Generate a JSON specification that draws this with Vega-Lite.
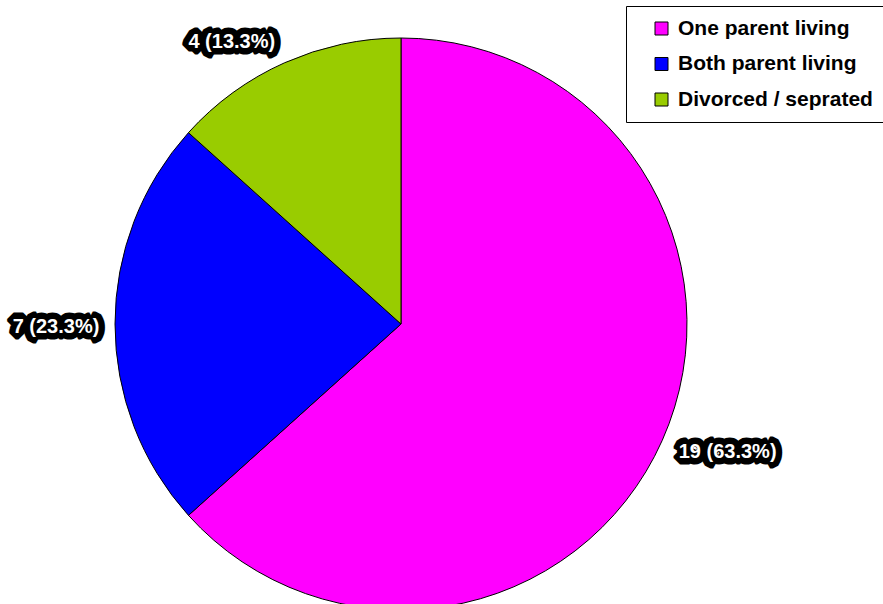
{
  "$schema": "https://vega.github.io/schema/vega-lite/v6.json",
  "width": 802,
  "height": 648,
  "padding": {"left": 0, "top": 0, "right": 81, "bottom": 0},
  "autosize": {"type": "none"},
  "background": "white",
  "view": {"stroke": null},
  "data": {"values": [
    {"category": "One parent living", "count": 19, "label": "19 (63.3%)"},
    {"category": "Both parent living", "count": 7, "label": "7 (23.3%)"},
    {"category": "Divorced / seprated", "count": 4, "label": "4 (13.3%)"}
  ]},
  "transform": [
    {"stack": "count", "groupby": [], "sort": [{"field": "count", "order": "descending"}], "as": ["s0", "s1"]},
    {"calculate": "(datum.s0 + datum.s1) / 2", "as": "mid"}
  ],
  "layer": [
    {
      "mark": {"type": "arc", "outerRadius": 286, "stroke": "black", "strokeWidth": 1},
      "encoding": {
        "theta": {"field": "s0", "type": "quantitative", "scale": {"domain": [0, 30]}},
        "theta2": {"field": "s1"},
        "color": {
          "field": "category", "type": "nominal",
          "scale": {"domain": ["One parent living", "Both parent living", "Divorced / seprated"], "range": ["#FF00FF", "#0000FF", "#99CC00"]},
          "legend": {
            "orient": "none", "legendX": 626, "legendY": 6, "title": null,
            "strokeColor": "black", "fillColor": "white", "padding": 12,
            "symbolType": "square", "symbolSize": 169, "symbolStrokeColor": "black", "symbolStrokeWidth": 1,
            "labelFont": "Liberation Sans", "labelFontSize": 21, "labelFontWeight": "bold", "labelColor": "black", "labelLimit": 400,
            "rowPadding": 13.5, "symbolOffset": 13, "labelOffset": 6
          }
        }
      }
    },
    {
      "transform": [{"filter": "datum.category == 'One parent living'"}],
      "layer": [
        {"mark": {"type": "text", "radius": 351, "dx": 6, "dy": -15, "font": "Liberation Sans", "fontSize": 20, "fontWeight": "bold", "fill": "black", "stroke": "black", "strokeWidth": 13, "strokeJoin": "bevel", "baseline": "middle", "align": "center"},
         "encoding": {"theta": {"field": "mid", "type": "quantitative", "scale": {"domain": [0, 30]}}, "text": {"field": "label"}}},
        {"mark": {"type": "text", "radius": 351, "dx": 6, "dy": -15, "font": "Liberation Sans", "fontSize": 20, "fontWeight": "bold", "fill": "white", "baseline": "middle", "align": "center"},
         "encoding": {"theta": {"field": "mid", "type": "quantitative", "scale": {"domain": [0, 30]}}, "text": {"field": "label"}}}
      ]
    },
    {
      "transform": [{"filter": "datum.category == 'Both parent living'"}],
      "layer": [
        {"mark": {"type": "text", "radius": 345, "dx": 0, "dy": 3, "font": "Liberation Sans", "fontSize": 20, "fontWeight": "bold", "fill": "black", "stroke": "black", "strokeWidth": 13, "strokeJoin": "bevel", "baseline": "middle", "align": "center"},
         "encoding": {"theta": {"field": "mid", "type": "quantitative", "scale": {"domain": [0, 30]}}, "text": {"field": "label"}}},
        {"mark": {"type": "text", "radius": 345, "dx": 0, "dy": 3, "font": "Liberation Sans", "fontSize": 20, "fontWeight": "bold", "fill": "white", "baseline": "middle", "align": "center"},
         "encoding": {"theta": {"field": "mid", "type": "quantitative", "scale": {"domain": [0, 30]}}, "text": {"field": "label"}}}
      ]
    },
    {
      "transform": [{"filter": "datum.category == 'Divorced / seprated'"}],
      "layer": [
        {"mark": {"type": "text", "radius": 330, "dx": -35, "dy": 19, "font": "Liberation Sans", "fontSize": 20, "fontWeight": "bold", "fill": "black", "stroke": "black", "strokeWidth": 13, "strokeJoin": "bevel", "baseline": "middle", "align": "center"},
         "encoding": {"theta": {"field": "mid", "type": "quantitative", "scale": {"domain": [0, 30]}}, "text": {"field": "label"}}},
        {"mark": {"type": "text", "radius": 330, "dx": -35, "dy": 19, "font": "Liberation Sans", "fontSize": 20, "fontWeight": "bold", "fill": "white", "baseline": "middle", "align": "center"},
         "encoding": {"theta": {"field": "mid", "type": "quantitative", "scale": {"domain": [0, 30]}}, "text": {"field": "label"}}}
      ]
    }
  ]
}
